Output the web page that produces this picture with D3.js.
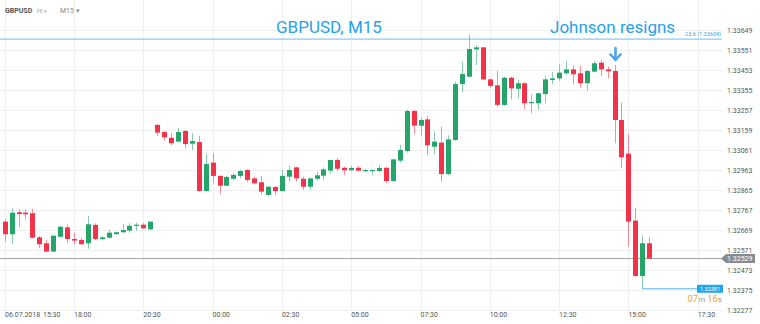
<!DOCTYPE html>
<html>
<head>
<meta charset="utf-8">
<script src="https://d3js.org/d3.v7.min.js"></script>
<style>
  body { margin: 0; background: #fff; }
  svg { display: block; font-family: Roboto, "Open Sans", sans-serif; }
</style>
</head>
<body>
<div id="chart"></div>
<script>
// GBPUSD M15, 06.07.2018 15:30 -> Monday afternoon
var openP = [
    1.32710, 1.32648, 1.32756, 1.32754, 1.32751, 1.32633, 1.32604, 1.32563, 1.32636, 1.32682,
    1.32625, 1.32620, 1.32604, 1.32694, 1.32625, 1.32631, 1.32649, 1.32658, 1.32666, 1.32689,
    1.32695, 1.32672, 1.33184, 1.33149, 1.33121, 1.33102, 1.33154, 1.33092, 1.33100, 1.32860,
    1.32999, 1.32934, 1.32886, 1.32920, 1.32934, 1.32963, 1.32922, 1.32903, 1.32841, 1.32880,
    1.32860, 1.32930, 1.32976, 1.32920, 1.32881, 1.32920, 1.32935, 1.32960, 1.33012, 1.32974,
    1.32962, 1.32974, 1.32957, 1.32957, 1.32958, 1.32974, 1.32909, 1.33009, 1.33056, 1.33252,
    1.33180, 1.33211, 1.33077, 1.33097, 1.32943, 1.33110, 1.33384, 1.33420, 1.33554, 1.33564,
    1.33407, 1.33378, 1.33282, 1.33415, 1.33361, 1.33388, 1.33290, 1.33290, 1.33335, 1.33404,
    1.33412, 1.33437, 1.33456, 1.33437, 1.33388, 1.33445, 1.33489, 1.33456, 1.33448, 1.33208,
    1.33043, 1.32715, 1.32444, 1.32604];
var highP = [
    1.32721, 1.32775, 1.32770, 1.32770, 1.32773, 1.32640, 1.32620, 1.32643, 1.32689, 1.32697,
    1.32656, 1.32631, 1.32738, 1.32702, 1.32640, 1.32669, 1.32661, 1.32697, 1.32702, 1.32705,
    1.32702, 1.32713, 1.33188, 1.33153, 1.33143, 1.33170, 1.33158, 1.33143, 1.33130, 1.33041,
    1.33045, 1.32937, 1.32934, 1.32947, 1.32966, 1.32966, 1.32930, 1.32934, 1.32886, 1.32883,
    1.32963, 1.32983, 1.32979, 1.32930, 1.32925, 1.32955, 1.32976, 1.33015, 1.33022, 1.32979,
    1.32983, 1.32983, 1.32968, 1.32966, 1.32988, 1.32976, 1.33017, 1.33086, 1.33260, 1.33257,
    1.33221, 1.33228, 1.33151, 1.33175, 1.33133, 1.33396, 1.33494, 1.33625, 1.33576, 1.33567,
    1.33412, 1.33450, 1.33420, 1.33420, 1.33404, 1.33393, 1.33334, 1.33342, 1.33424, 1.33442,
    1.33481, 1.33499, 1.33476, 1.33473, 1.33453, 1.33497, 1.33502, 1.33469, 1.33478, 1.33293,
    1.33139, 1.32778, 1.32643, 1.32636];
var lowP = [
    1.32612, 1.32600, 1.32682, 1.32721, 1.32628, 1.32579, 1.32561, 1.32560, 1.32631, 1.32604,
    1.32600, 1.32596, 1.32577, 1.32620, 1.32617, 1.32628, 1.32645, 1.32653, 1.32656, 1.32666,
    1.32674, 1.32669, 1.33130, 1.33107, 1.33084, 1.33099, 1.33069, 1.33061, 1.32857, 1.32857,
    1.32898, 1.32845, 1.32885, 1.32914, 1.32922, 1.32903, 1.32894, 1.32841, 1.32837, 1.32841,
    1.32857, 1.32906, 1.32906, 1.32865, 1.32865, 1.32911, 1.32911, 1.32947, 1.32960, 1.32939,
    1.32958, 1.32955, 1.32953, 1.32939, 1.32953, 1.32898, 1.32904, 1.32999, 1.33048, 1.33139,
    1.33130, 1.33037, 1.33041, 1.32906, 1.32937, 1.33106, 1.33344, 1.33417, 1.33478, 1.33404,
    1.33366, 1.33273, 1.33277, 1.33309, 1.33314, 1.33262, 1.33241, 1.33257, 1.33290, 1.33384,
    1.33400, 1.33429, 1.33383, 1.33366, 1.33352, 1.33442, 1.33424, 1.33412, 1.33094, 1.32971,
    1.32587, 1.32440, 1.32381, 1.32527];
var closeP = [
    1.32648, 1.32754, 1.32747, 1.32746, 1.32631, 1.32599, 1.32563, 1.32641, 1.32685, 1.32625,
    1.32617, 1.32599, 1.32697, 1.32625, 1.32633, 1.32656, 1.32658, 1.32669, 1.32690, 1.32695,
    1.32677, 1.32710, 1.33146, 1.33123, 1.33094, 1.33149, 1.33090, 1.33105, 1.32860, 1.32992,
    1.32934, 1.32886, 1.32929, 1.32939, 1.32958, 1.32914, 1.32898, 1.32857, 1.32881, 1.32860,
    1.32934, 1.32963, 1.32922, 1.32881, 1.32922, 1.32937, 1.32966, 1.33012, 1.32969, 1.32962,
    1.32973, 1.32960, 1.32963, 1.32963, 1.32973, 1.32909, 1.33015, 1.33061, 1.33252, 1.33180,
    1.33208, 1.33084, 1.33102, 1.32943, 1.33113, 1.33384, 1.33433, 1.33556, 1.33564, 1.33407,
    1.33375, 1.33282, 1.33415, 1.33363, 1.33388, 1.33290, 1.33296, 1.33339, 1.33407, 1.33412,
    1.33440, 1.33456, 1.33432, 1.33388, 1.33448, 1.33486, 1.33456, 1.33447, 1.33208, 1.33025,
    1.32710, 1.32444, 1.32604, 1.32529];

var priceTicks = [1.33649, 1.33551, 1.33453, 1.33355, 1.33257, 1.33159, 1.33061,
    1.32963, 1.32865, 1.32767, 1.32669, 1.32571, 1.32473, 1.32375, 1.32277];
var timeTickIdx = [0, 10, 20, 30, 40, 50, 60, 70, 80, 90, 100];
var timeTickLabels = ["15:30", "18:00", "20:30", "00:00", "02:30", "05:00",
    "07:30", "10:00", "12:30", "15:00", "17:30"];
var firstDate = "06.07.2018";

var fiboLevel = 1.33604, fiboLabel = "23.6 (1.33604)";
var lastPrice = 1.32529;
var lowMark = 1.32381;
var newsIdx = 88;

var W = 760, H = 324, plotRight = 722, plotBottom = 310;
var green = "#26a56a", red = "#f4334b";
var axisFont = "7px";

var svg = d3.select("#chart").append("svg")
    .attr("width", W)
    .attr("height", H);

var data = openP.map(function (o, i) {
    return { i: i, o: o, h: highP[i], l: lowP[i], c: closeP[i] };
});

var x = d3.scaleLinear().domain([0, 100]).range([4.7, 697.7]);
var y = d3.scaleLinear().domain([1.32277, 1.33649]).range([plotBottom, 30]);

// grid
svg.append("g").selectAll("line")
    .data(priceTicks).enter().append("line")
    .attr("x1", 0).attr("x2", plotRight)
    .attr("y1", function (d) { return Math.round(y(d)) + 0.5; })
    .attr("y2", function (d) { return Math.round(y(d)) + 0.5; })
    .attr("stroke", "#efefef");
svg.append("g").selectAll("line")
    .data(timeTickIdx).enter().append("line")
    .attr("x1", function (d) { return Math.round(x(d)) + 0.5; })
    .attr("x2", function (d) { return Math.round(x(d)) + 0.5; })
    .attr("y1", 0).attr("y2", plotBottom)
    .attr("stroke", "#efefef");

// right price axis
var yAxis = d3.axisRight(y).tickValues(priceTicks)
    .tickSize(0).tickPadding(0)
    .tickFormat(d3.format(".5f"));
svg.append("g")
    .attr("transform", "translate(727,0)")
    .call(yAxis)
    .attr("font-family", null)
    .attr("font-size", null)
    .call(function (g) { g.select(".domain").remove(); })
    .selectAll("text")
    .attr("fill", "#555").style("font-size", axisFont);

// time labels
svg.append("g").selectAll("text")
    .data(timeTickIdx).enter().append("text")
    .attr("x", function (d, i) { return i === 0 ? 43 : x(d); })
    .attr("y", 317)
    .attr("fill", "#555").style("font-size", axisFont)
    .text(function (d, i) { return timeTickLabels[i]; });
svg.append("text")
    .attr("x", 5).attr("y", 317)
    .attr("fill", "#555").style("font-size", axisFont)
    .text(firstDate);

// fibo level
svg.append("line")
    .attr("x1", 0).attr("x2", plotRight)
    .attr("y1", y(fiboLevel)).attr("y2", y(fiboLevel))
    .attr("stroke", "#8ec9f3").attr("stroke-width", 1.2);
svg.append("text")
    .attr("x", plotRight - 1).attr("y", y(fiboLevel) - 3)
    .attr("text-anchor", "end")
    .attr("fill", "#3a9fe0").style("font-size", "5.5px")
    .text(fiboLabel);

// last price line + tag
var ly = y(lastPrice);
svg.append("line")
    .attr("x1", 0).attr("x2", plotRight)
    .attr("y1", ly).attr("y2", ly)
    .attr("stroke", "#a3a3a3");
svg.append("path")
    .attr("d", "M721," + ly + "L726," + (ly - 4.5) + "L755," + (ly - 4.5) + "L755," + (ly + 4.5) + "L726," + (ly + 4.5) + "Z")
    .attr("fill", "#858b90");
svg.append("text")
    .attr("x", 727).attr("y", ly + 2.5)
    .attr("fill", "#fff").style("font-size", axisFont)
    .text(d3.format(".5f")(lastPrice));

// candles
var bw = 5;
var candles = svg.append("g").selectAll("g")
    .data(data).enter().append("g");
candles.append("line")
    .attr("x1", function (d) { return Math.round(x(d.i)) + 0.5; })
    .attr("x2", function (d) { return Math.round(x(d.i)) + 0.5; })
    .attr("y1", function (d) { return y(d.h); })
    .attr("y2", function (d) { return y(d.l); })
    .attr("stroke", function (d) { return d.c >= d.o ? green : red; })
    .attr("stroke-opacity", 0.55);
candles.append("rect")
    .attr("x", function (d) { return Math.round(x(d.i)) + 0.5 - bw / 2; })
    .attr("y", function (d) { return y(Math.max(d.o, d.c)); })
    .attr("width", bw)
    .attr("height", function (d) { return Math.max(1.2, Math.abs(y(d.o) - y(d.c))); })
    .attr("fill", function (d) { return d.c >= d.o ? green : red; });

// low marker
var my = y(lowMark);
svg.append("line")
    .attr("x1", x(92)).attr("x2", 697)
    .attr("y1", my).attr("y2", my)
    .attr("stroke", "#4fb5ee");
svg.append("rect")
    .attr("x", 697).attr("y", my - 4)
    .attr("width", 26).attr("height", 8)
    .attr("fill", "#1ea5ee");
svg.append("text")
    .attr("x", 710).attr("y", my + 2)
    .attr("text-anchor", "middle")
    .attr("fill", "#fff").style("font-size", "5.5px")
    .text(d3.format(".5f")(lowMark));

// countdown
var cd = svg.append("text")
    .attr("x", 722).attr("y", 302)
    .attr("text-anchor", "end")
    .style("font-size", "9.5px");
cd.append("tspan").attr("fill", "#f5a623").text("07");
cd.append("tspan").attr("fill", "#999").style("font-size", "8px").text("m ");
cd.append("tspan").attr("fill", "#f5a623").text("16");
cd.append("tspan").attr("fill", "#999").style("font-size", "8px").text("s");

// news arrow
var ax = Math.round(x(newsIdx)) + 0.5;
svg.append("path")
    .attr("d", "M" + ax + ",48L" + ax + ",60M" + (ax - 5) + ",54.5L" + ax + ",60L" + (ax + 5) + ",54.5")
    .attr("fill", "none")
    .attr("stroke", "#4aa6f0")
    .attr("stroke-width", 2.6)
    .attr("stroke-linecap", "round")
    .attr("stroke-linejoin", "round");

// titles
svg.append("text")
    .attr("x", 276).attr("y", 33)
    .attr("fill", "#27a2e8").style("font-size", "17px")
    .text("GBPUSD, M15");
svg.append("text")
    .attr("x", 550).attr("y", 33)
    .attr("fill", "#27a2e8").style("font-size", "17px")
    .text("Johnson resigns");

// header
svg.append("text")
    .attr("x", 5).attr("y", 13)
    .attr("fill", "#555").style("font-size", "7px").style("font-weight", "bold")
    .text("GBPUSD");
svg.append("text")
    .attr("x", 37).attr("y", 13)
    .attr("fill", "#aaa").style("font-size", "5px")
    .text("FE  \u25BE");
svg.append("text")
    .attr("x", 60).attr("y", 13)
    .attr("fill", "#888").style("font-size", "7px")
    .text("M15 \u25BE");
</script>
</body>
</html>
